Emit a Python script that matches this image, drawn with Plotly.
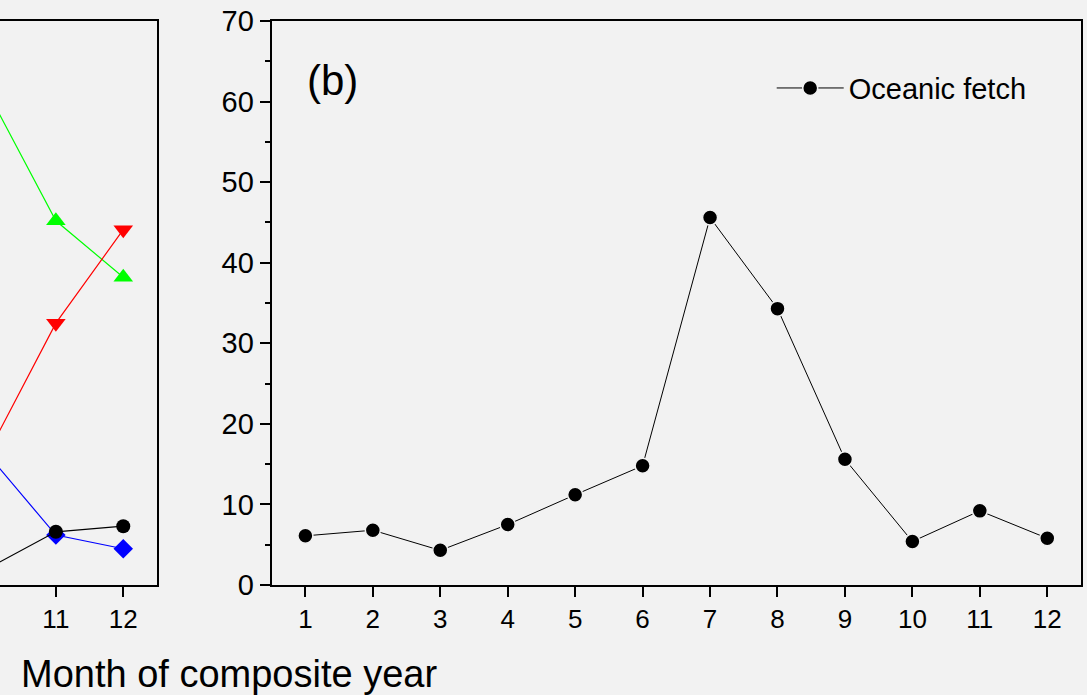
import plotly.graph_objects as go

# Monthly share (%) of each fetch type over the composite year
months = [1, 2, 3, 4, 5, 6, 7, 8, 9, 10, 11, 12]
oceanic_fetch = [6.1, 6.8, 4.3, 7.5, 11.2, 14.8, 45.6, 34.3, 15.6, 5.4, 9.2, 5.8]

# Panel (a) series, tail of the year
months_a = [10, 11, 12]
series_green = [61.0, 45.2, 38.2]
series_red = [16.5, 32.5, 44.1]
series_blue = [16.1, 6.2, 4.5]
series_black = [2.1, 6.6, 7.3]

x_ticks = [1, 2, 3, 4, 5, 6, 7, 8, 9, 10, 11, 12]
y_ticks = [0, 10, 20, 30, 40, 50, 60, 70]

BG = "#f2f2f2"
FONT = "Arial, Liberation Sans, sans-serif"

fig = go.Figure()

# Panel (a): only its right-hand end is in view
for vals, color, symbol, size in [
    (series_green, "#00ff00", "triangle-up", 17),
    (series_red, "#ff0000", "triangle-down", 17),
    (series_blue, "#0000ff", "diamond", 15),
    (series_black, "#000000", "circle", 14),
]:
    fig.add_trace(go.Scatter(
        x=months_a, y=vals, mode="lines+markers",
        line=dict(color=color, width=1.2),
        marker=dict(symbol=symbol, size=size, color=color),
        showlegend=False, xaxis="x", yaxis="y",
    ))

# Panel (b)
fig.add_trace(go.Scatter(
    x=months, y=oceanic_fetch, mode="lines+markers", name="Oceanic fetch",
    line=dict(color="black", width=1),
    marker=dict(symbol="circle", size=15, color="black",
                line=dict(color=BG, width=1.5)),
    xaxis="x2", yaxis="y2",
))

axis_common = dict(showgrid=False, zeroline=False, linecolor="black", linewidth=2,
                   ticks="outside", ticklen=10, tickwidth=2, tickcolor="black")

fig.update_layout(
    width=1087, height=695,
    margin=dict(l=0, r=6, t=21, b=110),
    paper_bgcolor=BG, plot_bgcolor=BG,
    font=dict(family=FONT, color="black"),
    xaxis=dict(domain=[0, 0.1452], range=[10.171, 12.5], tickvals=x_ticks,
               showline=True, mirror=True, tickfont=dict(size=26), **axis_common),
    yaxis=dict(domain=[0, 1], range=[0, 70], side="right", showline=True,
               showgrid=False, zeroline=False, linecolor="black", linewidth=2,
               ticks="", showticklabels=False, anchor="x"),
    xaxis2=dict(domain=[0.2513, 1], range=[0.5, 12.5], tickvals=x_ticks,
                showline=True, mirror=True, tickfont=dict(size=26), anchor="y2",
                **axis_common),
    yaxis2=dict(domain=[0, 1], range=[0, 70], tickvals=y_ticks, showline=True,
                mirror=True, tickfont=dict(size=29), anchor="x2",
                minor=dict(dtick=5, ticks="outside", ticklen=5, tickwidth=2,
                           tickcolor="black"),
                **axis_common),
    legend=dict(x=0.9544, y=0.881, xanchor="right", yanchor="middle",
                bgcolor="rgba(0,0,0,0)", font=dict(size=29), itemwidth=67),
    showlegend=True,
)

fig.add_annotation(text="(b)", x=0.041, y=0.895, xref="x2 domain", yref="y2 domain",
                   xanchor="left", yanchor="middle", showarrow=False,
                   font=dict(size=42))
fig.add_annotation(text="Month of composite year", x=0.212, y=-0.157,
                   xref="paper", yref="paper", xanchor="center", yanchor="middle",
                   showarrow=False, font=dict(size=38))

fig.write_html("out.html")
